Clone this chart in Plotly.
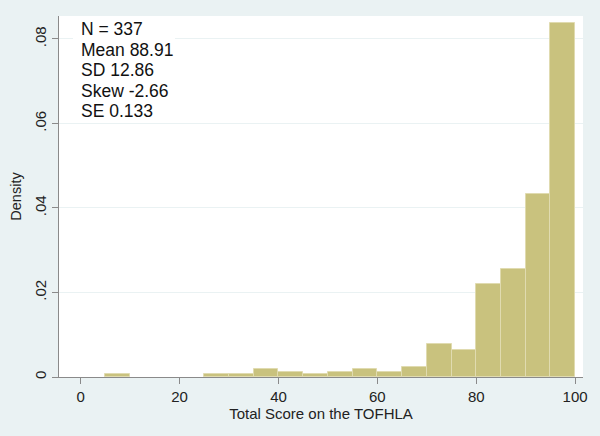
import plotly.graph_objects as go

# Histogram bins (left edges, width 5) and densities
bin_starts = [5, 10, 15, 20, 25, 30, 35, 40, 45, 50, 55, 60, 65, 70, 75, 80, 85, 90, 95]
densities = [0.0006, 0.0, 0.0, 0.0, 0.0006, 0.0006, 0.0018, 0.0012, 0.0006, 0.0012,
             0.0018, 0.0012, 0.0024, 0.0077, 0.0065, 0.0220, 0.0255, 0.0433, 0.0837]
bin_width = 5

y_tickvals = [0, 0.02, 0.04, 0.06, 0.08]
y_ticktext = ["0", ".02", ".04", ".06", ".08"]
x_tickvals = [0, 20, 40, 60, 80, 100]

stats_lines = ["N = 337", "Mean 88.91", "SD 12.86", "Skew -2.66", "SE 0.133"]

xs = [s + bin_width / 2 for s, d in zip(bin_starts, densities) if d > 0]
ys = [d for d in densities if d > 0]

W, H = 600, 436
L, R, T, B = 59, 17, 16, 59
pw, ph = W - L - R, H - T - B

fig = go.Figure()
fig.add_trace(go.Bar(
    x=xs, y=ys, width=bin_width,
    marker=dict(color="#c9c27e", line=dict(color="#e0dbb0", width=1)),
    hoverinfo="x+y",
))

font_family = "Liberation Sans, Arial, sans-serif"
axis_color = "#8a8a8a"
txt = "#222222"

fig.update_layout(
    template="none",
    width=W, height=H,
    margin=dict(l=L, r=R, t=T, b=B, autoexpand=False),
    paper_bgcolor="#eaf2f3",
    plot_bgcolor="#ffffff",
    showlegend=False,
    bargap=0,
    font=dict(family=font_family, color=txt, size=15),
    xaxis=dict(
        automargin=False,
        range=[-4.4, 101.6],
        tickvals=x_tickvals,
        ticks="outside", ticklen=6, tickcolor=axis_color, tickwidth=1,
        showline=True, linecolor=axis_color, linewidth=1,
        showgrid=False, zeroline=False,
        tickfont=dict(size=15, family=font_family, color=txt),
        title=dict(text="Total Score on the TOFHLA", standoff=0,
                   font=dict(size=15, family=font_family, color=txt)),
    ),
    yaxis=dict(
        automargin=False,
        range=[0, 0.08544],
        tickvals=y_tickvals, ticktext=y_ticktext,
        tickangle=-90,
        ticks="outside", ticklen=6, tickcolor=axis_color, tickwidth=1,
        showline=True, linecolor=axis_color, linewidth=1,
        showgrid=True, gridcolor="#eaf2f3", gridwidth=1,
        zeroline=False,
        tickfont=dict(size=15, family=font_family, color=txt),
        title=dict(text="Density", standoff=6,
                   font=dict(size=14.5, family=font_family, color=txt)),
    ),
)

# white legend-like box behind the summary statistics
fig.add_shape(type="rect", xref="paper", yref="paper",
              x0=(73 - L) / pw, x1=(175 - L) / pw, y0=(H - B - 120) / ph, y1=1.0,
              fillcolor="#ffffff", line=dict(width=0), layer="above")

line_step = 20.5
first_center = 29
for i, line in enumerate(stats_lines):
    py = first_center + i * line_step
    fig.add_annotation(
        xref="paper", yref="paper",
        x=(79 - L) / pw, y=(H - B - py) / ph,
        xanchor="left", yanchor="middle",
        text=line, showarrow=False, align="left",
        font=dict(size=17.5, family=font_family, color="#111111"),
    )

fig.write_html("out.html",
               config={"displayModeBar": False},
               post_script="document.body.style.margin='0';document.body.style.padding='0';")
